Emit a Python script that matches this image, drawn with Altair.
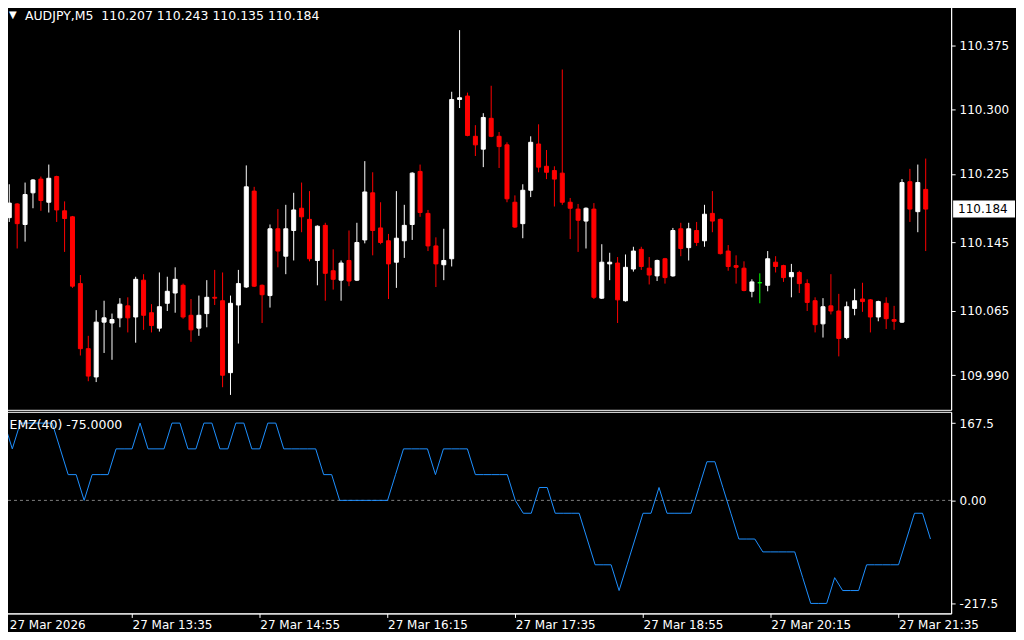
import json
import numpy as np
import pandas as pd
import altair as alt

SYMBOL = "AUDJPY,M5"
EMZ_PERIOD = 40

OPEN = [110.174, 110.190, 110.166, 110.203, 110.219, 110.192, 110.222, 110.182, 110.175, 110.097,
        110.021, 109.988, 110.052, 110.051, 110.057, 110.071, 110.058, 110.101, 110.063, 110.045,
        110.074, 110.086, 110.095, 110.060, 110.045, 110.062, 110.081, 110.077, 109.993, 110.072,
        110.093, 110.205, 110.095, 110.083, 110.161, 110.129, 110.159, 110.185, 110.172, 110.124,
        110.165, 110.112, 110.101, 110.124, 110.101, 110.148, 110.203, 110.162, 110.147, 110.122,
        110.147, 110.166, 110.228, 110.179, 110.141, 110.119, 110.126, 110.312, 110.316, 110.269,
        110.254, 110.290, 110.269, 110.259, 110.192, 110.167, 110.206, 110.260, 110.234, 110.229,
        110.226, 110.192, 110.184, 110.170, 110.184, 110.080, 110.120, 110.121, 110.077, 110.114,
        110.137, 110.115, 110.106, 110.126, 110.106, 110.161, 110.139, 110.159, 110.147, 110.179,
        110.172, 110.135, 110.118, 110.115, 110.088, 110.098, 110.095, 110.122, 110.118, 110.105,
        110.110, 110.097, 110.077, 110.050, 110.071, 110.065, 110.034, 110.068, 110.079, 110.078,
        110.058, 110.074, 110.055, 110.052, 110.216, 110.181, 110.207]
HIGH = [110.213, 110.191, 110.215, 110.219, 110.222, 110.236, 110.223, 110.193, 110.176, 110.107,
        110.036, 110.066, 110.077, 110.062, 110.080, 110.081, 110.105, 110.108, 110.073, 110.110,
        110.105, 110.116, 110.097, 110.079, 110.083, 110.101, 110.113, 110.110, 110.083, 110.113,
        110.235, 110.210, 110.096, 110.166, 110.184, 110.189, 110.203, 110.215, 110.205, 110.165,
        110.168, 110.137, 110.124, 110.159, 110.168, 110.240, 110.227, 110.192, 110.155, 110.205,
        110.189, 110.227, 110.236, 110.183, 110.151, 110.161, 110.321, 110.393, 110.320, 110.282,
        110.296, 110.328, 110.274, 110.262, 110.200, 110.213, 110.269, 110.283, 110.253, 110.234,
        110.347, 110.197, 110.190, 110.186, 110.191, 110.143, 110.133, 110.128, 110.131, 110.140,
        110.140, 110.128, 110.125, 110.127, 110.162, 110.168, 110.168, 110.169, 110.189, 110.205,
        110.173, 110.142, 110.130, 110.123, 110.102, 110.109, 110.135, 110.129, 110.119, 110.120,
        110.112, 110.102, 110.081, 110.080, 110.108, 110.085, 110.076, 110.091, 110.098, 110.079,
        110.077, 110.081, 110.071, 110.219, 110.231, 110.236, 110.243]
LOW = [110.169, 110.138, 110.146, 110.185, 110.182, 110.180, 110.169, 110.134, 110.092, 110.013,
       109.983, 109.982, 110.016, 110.008, 110.046, 110.040, 110.028, 110.043, 110.040, 110.041,
       110.065, 110.063, 110.056, 110.029, 110.036, 110.046, 110.072, 109.976, 109.967, 110.027,
       110.092, 110.093, 110.051, 110.069, 110.116, 110.108, 110.124, 110.157, 110.123, 110.095,
       110.077, 110.090, 110.077, 110.094, 110.100, 110.144, 110.130, 110.143, 110.079, 110.092,
       110.127, 110.148, 110.175, 110.135, 110.093, 110.101, 110.117, 110.302, 110.269, 110.246,
       110.233, 110.268, 110.232, 110.192, 110.162, 110.150, 110.198, 110.227, 110.219, 110.187,
       110.189, 110.149, 110.134, 110.138, 110.079, 110.079, 110.101, 110.051, 110.076, 110.111,
       110.113, 110.096, 110.100, 110.097, 110.105, 110.129, 110.124, 110.141, 110.140, 110.157,
       110.131, 110.112, 110.097, 110.088, 110.081, 110.074, 110.088, 110.110, 110.099, 110.081,
       110.086, 110.065, 110.040, 110.034, 110.061, 110.012, 110.032, 110.060, 110.064, 110.040,
       110.053, 110.044, 110.043, 110.051, 110.169, 110.157, 110.135]
CLOSE = [110.191, 110.167, 110.201, 110.218, 110.194, 110.220, 110.183, 110.173, 110.094, 110.021,
         109.989, 110.052, 110.057, 110.055, 110.073, 110.057, 110.102, 110.060, 110.048, 110.070,
         110.088, 110.102, 110.058, 110.043, 110.060, 110.081, 110.080, 109.990, 110.074, 110.097,
         110.210, 110.094, 110.084, 110.161, 110.135, 110.161, 110.183, 110.175, 110.126, 110.164,
         110.109, 110.102, 110.121, 110.100, 110.145, 110.204, 110.159, 110.145, 110.120, 110.150,
         110.165, 110.226, 110.180, 110.141, 110.120, 110.124, 110.312, 110.314, 110.270, 110.259,
         110.291, 110.269, 110.257, 110.196, 110.163, 110.206, 110.262, 110.233, 110.227, 110.219,
         110.192, 110.185, 110.171, 110.185, 110.081, 110.122, 110.122, 110.078, 110.116, 110.135,
         110.117, 110.107, 110.124, 110.104, 110.159, 110.138, 110.161, 110.145, 110.178, 110.170,
         110.132, 110.117, 110.116, 110.089, 110.099, 110.098, 110.126, 110.117, 110.104, 110.110,
         110.097, 110.075, 110.049, 110.070, 110.065, 110.033, 110.070, 110.077, 110.076, 110.058,
         110.076, 110.056, 110.053, 110.215, 110.184, 110.215, 110.184]
EMZ = [150, 100, 150, 150, 150, 150, 150, 100, 50, 50,
       0, 50, 50, 50, 100, 100, 100, 150, 100, 100,
       100, 150, 150, 100, 100, 150, 150, 100, 100, 150,
       150, 100, 100, 150, 150, 100, 100, 100, 100, 100,
       50, 50, 0, 0, 0, 0, 0, 0, 0, 50,
       100, 100, 100, 100, 50, 100, 100, 100, 100, 50,
       50, 50, 50, 50, 0, -25, -25, 25, 25, -25,
       -25, -25, -25, -75, -125, -125, -125, -175, -125, -75,
       -25, -25, 25, -25, -25, -25, -25, 25, 75, 75,
       25, -25, -75, -75, -75, -100, -100, -100, -100, -100,
       -150, -200, -200, -200, -150, -175, -175, -175, -125, -125,
       -125, -125, -125, -75, -25, -25, -75]

TIME_TICKS = [0, 16, 32, 48, 64, 80, 96, 112]
TIME_LABELS = ["27 Mar 2026", "27 Mar 13:35", "27 Mar 14:55", "27 Mar 16:15",
               "27 Mar 17:35", "27 Mar 18:55", "27 Mar 20:15", "27 Mar 21:35"]
PRICE_TICKS = [110.375, 110.300, 110.225, 110.145, 110.065, 109.990]
EMZ_TICKS = [150, 0, -200]
EMZ_TICK_LABELS = ["167.5", "0.00", "-217.5"]

FONT = "DejaVu Sans"

n = len(OPEN)
df = pd.DataFrame({"i": list(range(n)), "open": OPEN, "high": HIGH, "low": LOW,
                   "close": CLOSE, "emz": EMZ})
df["body_lo"] = df[["open", "close"]].min(axis=1)
df["body_hi"] = df[["open", "close"]].max(axis=1)
df["dir"] = np.where(df["close"] > df["open"], "up",
                     np.where(df["close"] < df["open"], "down", "flat"))

xscale = alt.Scale(domain=[-0.1625, 118.5875], nice=False, zero=False)
pscale = alt.Scale(domain=[109.9496, 110.4251], nice=False, zero=False)
escale = alt.Scale(domain=[-219.4, 171.9], nice=False, zero=False)
cscale = alt.Scale(domain=["up", "down", "flat"], range=["#FFFFFF", "#FF0000", "#00FF00"])

W = 950

base = alt.Chart(df).encode(x=alt.X("i:Q", scale=xscale, axis=None))

wicks = base.mark_rule(strokeWidth=1, clip=True).encode(
    y=alt.Y("low:Q", scale=pscale,
            axis=alt.Axis(orient="right", values=PRICE_TICKS, format=".3f", title=None,
                          grid=False, tickSize=4, labelPadding=4)),
    y2="high:Q",
    color=alt.Color("dir:N", scale=cscale, legend=None),
)
bodies = base.mark_bar(size=4, strokeWidth=1, clip=True).encode(
    y=alt.Y("body_lo:Q", scale=pscale),
    y2="body_hi:Q",
    color=alt.Color("dir:N", scale=cscale, legend=None),
    stroke=alt.Stroke("dir:N", scale=cscale, legend=None),
)

last = df.iloc[[-1]].copy()
last["label"] = last["close"].map(lambda v: f"{v:.3f}")
last["head"] = f"{SYMBOL}\u00a0 {OPEN[-1]:.3f} {HIGH[-1]:.3f} {LOW[-1]:.3f} {CLOSE[-1]:.3f}"
last["ind"] = f"EMZ({EMZ_PERIOD}) {EMZ[-1]:.4f}"

price_box = alt.Chart(last).mark_tick(orient="horizontal", size=62, thickness=17,
                                      color="white", opacity=1).encode(
    y=alt.Y("close:Q", scale=pscale), x=alt.value(983))
price_txt = alt.Chart(last).mark_text(align="left", baseline="middle", color="black",
                                      font=FONT, fontSize=12).encode(
    y=alt.Y("close:Q", scale=pscale), x=alt.value(957), text="label:N")
head_tri = alt.Chart(last).mark_text(text="\u25bc", align="left", baseline="middle",
                                     color="white", font=FONT, fontSize=10).encode(
    x=alt.value(6), y=alt.value(12))
head_txt = alt.Chart(last).mark_text(align="left", baseline="middle", color="white",
                                     font=FONT, fontSize=12.5).encode(
    x=alt.value(22), y=alt.value(13), text="head:N")

main = alt.layer(wicks, bodies, price_box, price_txt, head_tri, head_txt).properties(
    width=W, height=408)

x_label_expr = f"{json.dumps(TIME_LABELS)}[indexof({json.dumps(TIME_TICKS)}, datum.value)]"
y_label_expr = f"{json.dumps(EMZ_TICK_LABELS)}[indexof({json.dumps(EMZ_TICKS)}, datum.value)]"

zero = alt.Chart(pd.DataFrame({"z": [0]})).mark_rule(
    color="#808080", strokeDash=[3, 3], strokeWidth=1).encode(y=alt.Y("z:Q", scale=escale))
line = alt.Chart(df).mark_line(color="#1E90FF", strokeWidth=1, clip=True).encode(
    x=alt.X("i:Q", scale=xscale,
            axis=alt.Axis(values=TIME_TICKS, labelExpr=x_label_expr, labelAlign="left",
                          labelFlush=False, labelOverlap=False, tickSize=4, labelPadding=2,
                          labelOffset={"condition": {"test": "datum.value === 0", "value": 5},
                                       "value": 0},
                          title=None, grid=False)),
    y=alt.Y("emz:Q", scale=escale,
            axis=alt.Axis(orient="right", values=EMZ_TICKS, labelExpr=y_label_expr,
                          title=None, grid=False, tickSize=4, labelPadding=4)),
)
ind_txt = alt.Chart(last).mark_text(align="left", baseline="middle", color="white",
                                    font=FONT, fontSize=12.5).encode(
    x=alt.value(6.5), y=alt.value(13), text="ind:N")

ind = alt.layer(zero, line, ind_txt).properties(width=W, height=202)

chart = alt.vconcat(main, ind, spacing=0).properties(
    padding={"left": -6, "top": -7, "right": 0, "bottom": 0}
).configure(background="black").configure_view(
    stroke="white", strokeWidth=1
).configure_axis(
    labelColor="white", labelFont=FONT, labelFontSize=12, tickColor="white",
    domainColor="white", domainWidth=1, tickWidth=1
)

chart.save("out.html", embed_options={"renderer": "svg", "actions": False})
